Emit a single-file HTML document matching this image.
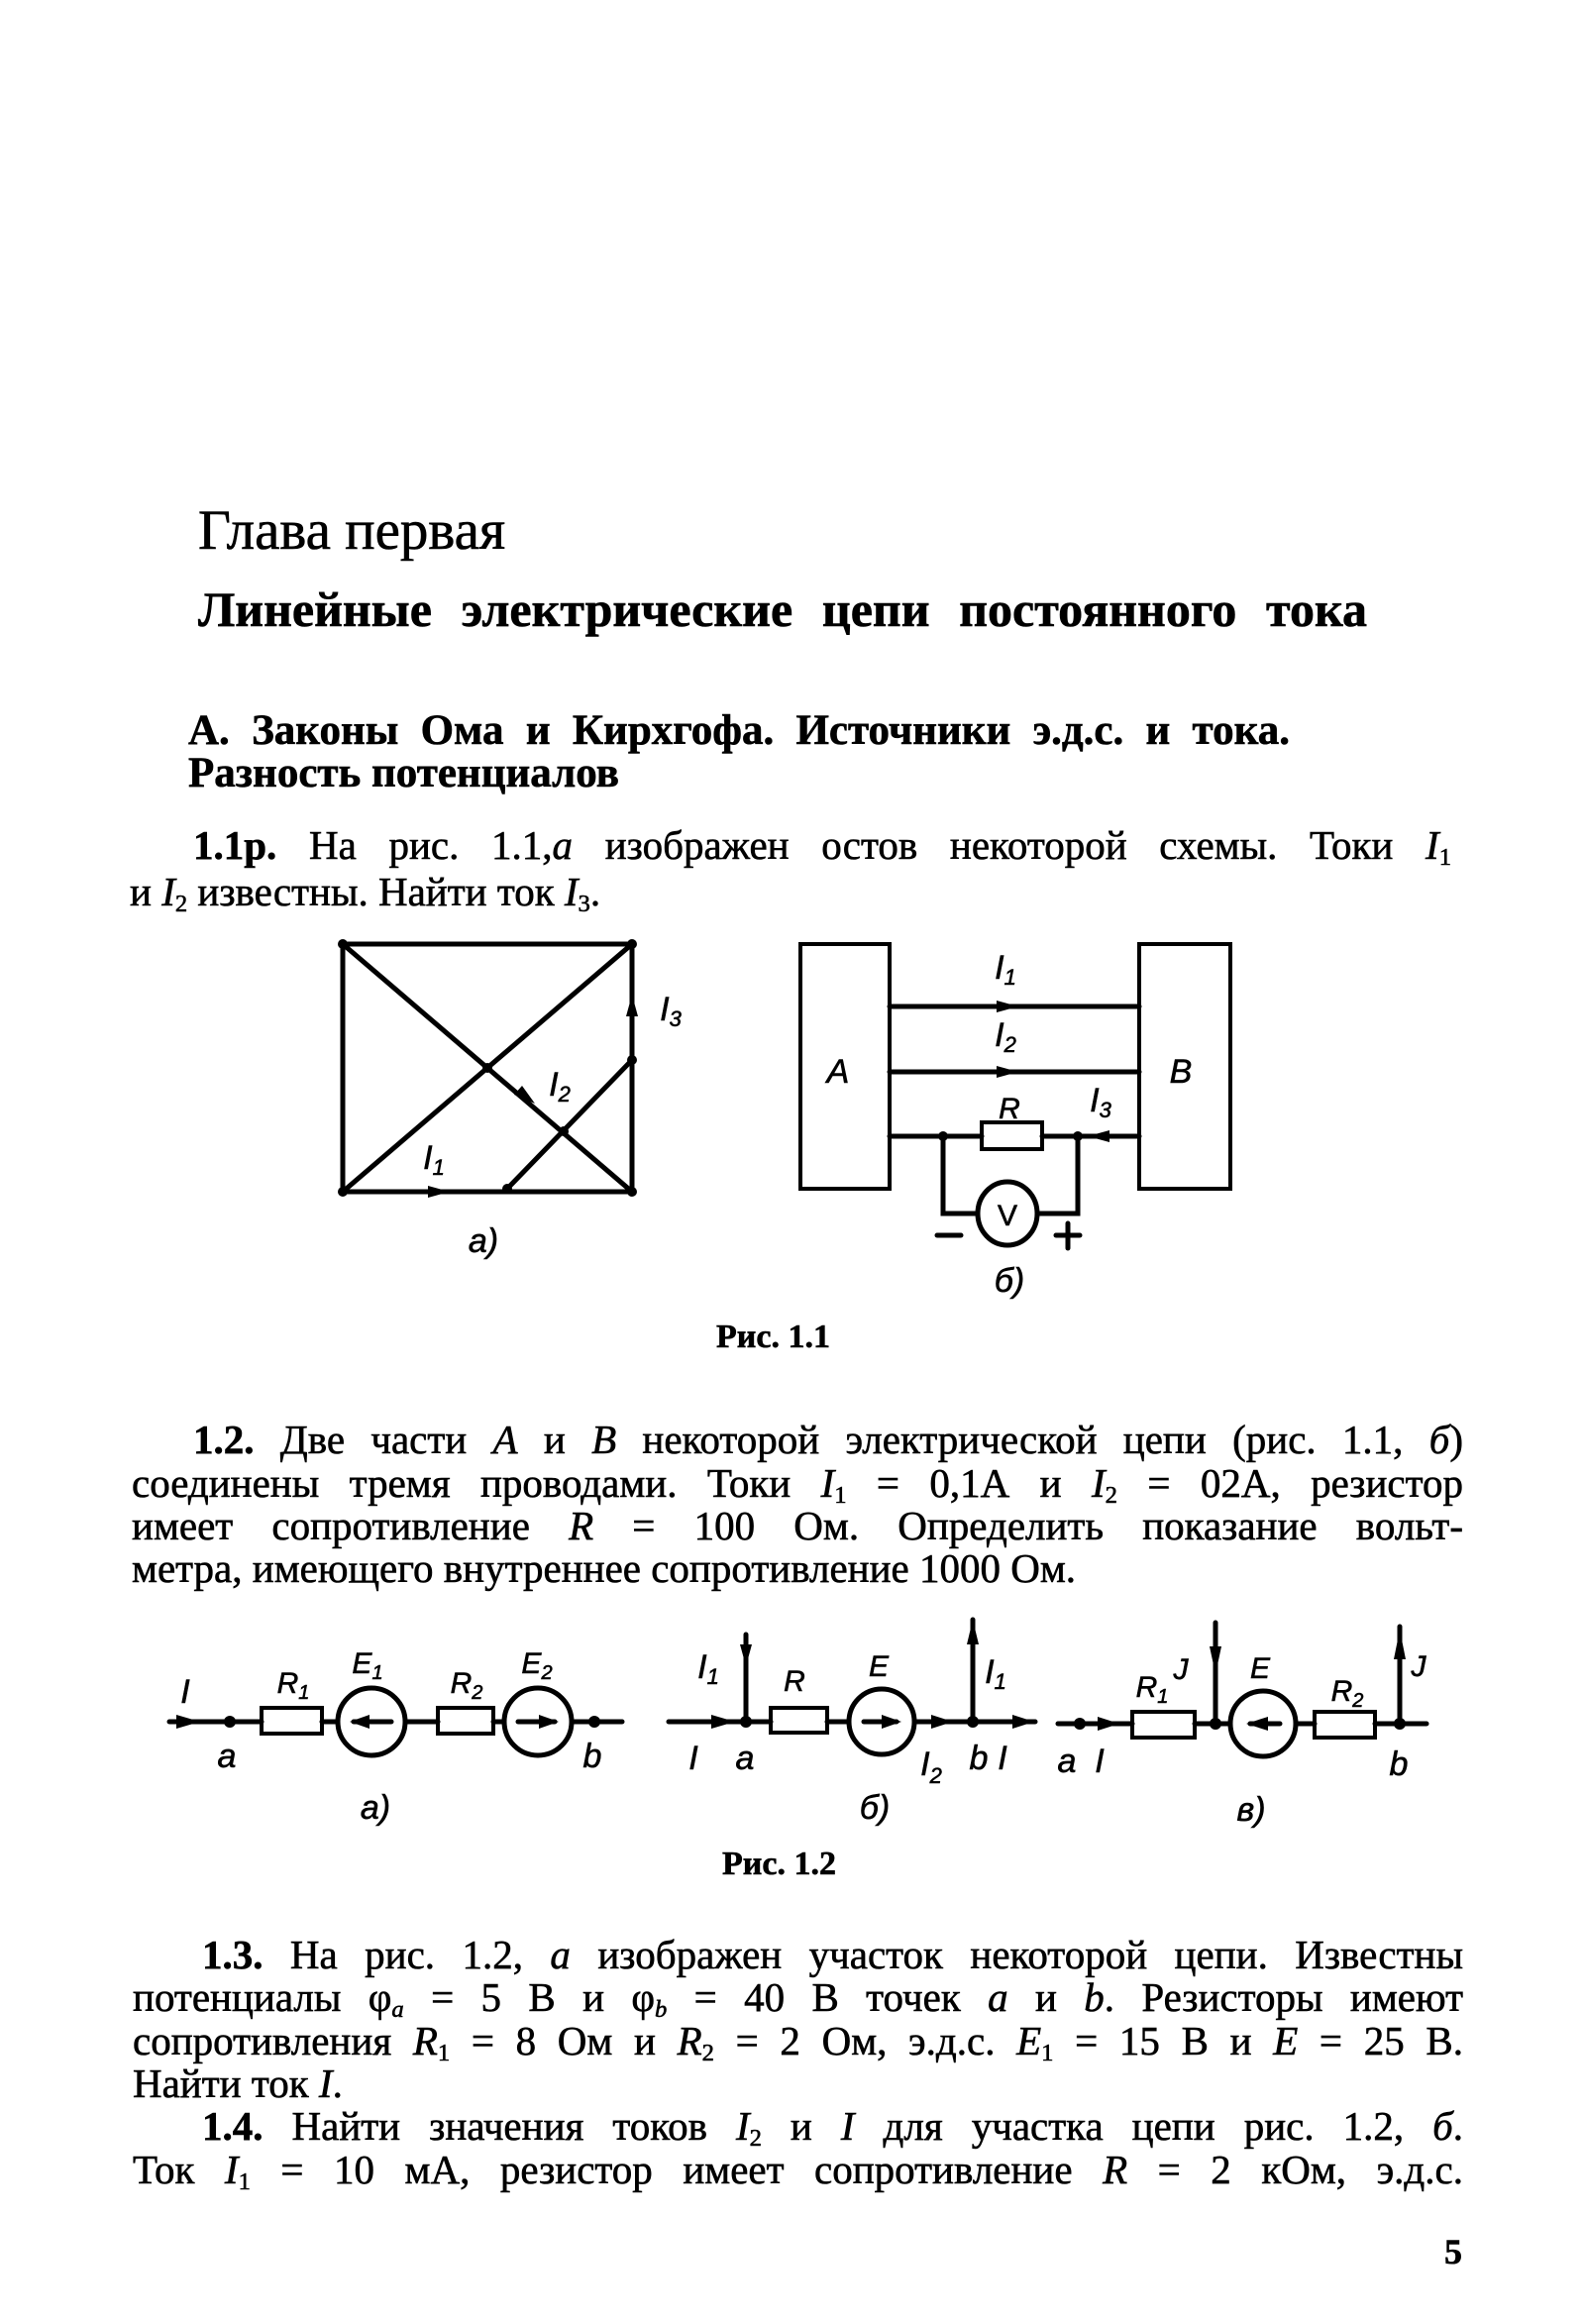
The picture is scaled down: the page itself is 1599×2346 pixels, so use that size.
<!DOCTYPE html>
<html><head><meta charset="utf-8">
<style>
body{margin:0;background:#fff;}
#p{position:relative;width:1599px;height:2346px;overflow:hidden;background:#fff;color:#000;font-family:"Liberation Serif","DejaVu Serif",serif;}
.t{position:absolute;white-space:nowrap;line-height:1;font-size:41px;-webkit-text-stroke:0.6px #000;}
.j{text-align:justify;text-align-last:justify;}
.b{font-weight:bold;}
i{font-style:italic;}
sub{font-size:60%;vertical-align:-0.25em;line-height:0;}
</style></head><body><div id="p">

<div class="t" style="left:200px;top:507px;font-size:57px;">Глава первая</div>
<div class="t b j" style="left:200px;top:590px;width:1180px;font-size:50px;">Линейные электрические цепи постоянного тока</div>
<div class="t b j" style="left:190px;top:716px;width:1112px;font-size:43px;">А. Законы Ома и Кирхгофа. Источники э.д.с. и тока.</div>
<div class="t b" style="left:190px;top:759px;font-size:43px;">Разность потенциалов</div>

<div class="t j" style="left:195px;top:833px;width:1270px;"><b>1.1р.</b> На рис. 1.1,<i>а</i> изображен остов некоторой схемы. Токи <i>I</i><sub>1</sub></div>
<div class="t" style="left:131px;top:880px;">и <i>I</i><sub>2</sub> известны. Найти ток <i>I</i><sub>3</sub>.</div>

<div class="t b" style="left:723px;top:1333px;font-size:34px;">Рис. 1.1</div>

<div class="t j" style="left:195px;top:1433px;width:1282px;"><b>1.2.</b> Две части <i>A</i> и <i>B</i> некоторой электрической цепи (рис. 1.1, <i>б</i>)</div>
<div class="t j" style="left:133px;top:1477px;width:1344px;">соединены тремя проводами. Токи <i>I</i><sub>1</sub> = 0,1А и <i>I</i><sub>2</sub> = 02А, резистор</div>
<div class="t j" style="left:133px;top:1520px;width:1344px;">имеет сопротивление <i>R</i> = 100 Ом. Определить показание вольт-</div>
<div class="t" style="left:133px;top:1563px;">метра, имеющего внутреннее сопротивление 1000 Ом.</div>

<div class="t b" style="left:729px;top:1865px;font-size:34px;">Рис. 1.2</div>

<div class="t j" style="left:204px;top:1953px;width:1273px;"><b>1.3.</b> На рис. 1.2, <i>а</i> изображен участок некоторой цепи. Известны</div>
<div class="t j" style="left:134px;top:1996px;width:1343px;">потенциалы φ<sub><i>a</i></sub> = 5 В и φ<sub><i>b</i></sub> = 40 В точек <i>a</i> и <i>b</i>. Резисторы имеют</div>
<div class="t j" style="left:134px;top:2040px;width:1343px;">сопротивления <i>R</i><sub>1</sub> = 8 Ом и <i>R</i><sub>2</sub> = 2 Ом, э.д.с. <i>E</i><sub>1</sub> = 15 В и <i>E</i> = 25 В.</div>
<div class="t" style="left:134px;top:2083px;">Найти ток <i>I</i>.</div>
<div class="t j" style="left:204px;top:2126px;width:1273px;"><b>1.4.</b> Найти значения токов <i>I</i><sub>2</sub> и <i>I</i> для участка цепи рис. 1.2, <i>б</i>.</div>
<div class="t j" style="left:134px;top:2170px;width:1343px;">Ток <i>I</i><sub>1</sub> = 10 мА, резистор имеет сопротивление <i>R</i> = 2 кОм, э.д.с.</div>

<div class="t b" style="left:1458px;top:2255px;font-size:36px;">5</div>

<svg style="position:absolute;left:0;top:0" width="1599" height="2346" viewBox="0 0 1599 2346">
<g stroke="#000" stroke-width="5" fill="none" stroke-linecap="round">
 <rect x="346" y="953" width="292" height="250"/>
 <line x1="346" y1="953" x2="638" y2="1203"/>
 <line x1="638" y1="953" x2="346" y2="1203"/>
 <line x1="512" y1="1200" x2="638" y2="1070"/>
 <rect x="808" y="953" width="90" height="247" stroke-width="4"/>
 <rect x="1150" y="953" width="92" height="247" stroke-width="4"/>
 <line x1="898" y1="1016" x2="1150" y2="1016"/>
 <line x1="898" y1="1082" x2="1150" y2="1082"/>
 <line x1="898" y1="1147" x2="991" y2="1147"/>
 <line x1="1052" y1="1147" x2="1150" y2="1147"/>
 <rect x="991" y="1133" width="61" height="27" stroke-width="4"/>
 <polyline points="952,1147 952,1225 987,1225"/>
 <polyline points="1088,1147 1088,1225 1048,1225"/>
 <ellipse cx="1017" cy="1225" rx="30" ry="32"/>
 <line x1="946" y1="1247" x2="970" y2="1247"/>
 <line x1="1066" y1="1247" x2="1090" y2="1247"/>
 <line x1="1078" y1="1235" x2="1078" y2="1260"/>
 <line x1="171" y1="1738" x2="264" y2="1738"/>
 <rect x="264" y="1724" width="61" height="26" stroke-width="4"/>
 <line x1="325" y1="1738" x2="341" y2="1738"/>
 <circle cx="375" cy="1738" r="34"/>
 <line x1="409" y1="1738" x2="442" y2="1738"/>
 <rect x="442" y="1724" width="56" height="26" stroke-width="4"/>
 <line x1="498" y1="1738" x2="509" y2="1738"/>
 <circle cx="543" cy="1738" r="34"/>
 <line x1="577" y1="1738" x2="628" y2="1738"/>
 <line x1="357" y1="1738" x2="395" y2="1738"/>
 <line x1="523" y1="1738" x2="560" y2="1738"/>
 <line x1="675" y1="1738" x2="778" y2="1738"/>
 <line x1="753" y1="1650" x2="753" y2="1738"/>
 <rect x="778" y="1724" width="57" height="25" stroke-width="4"/>
 <line x1="835" y1="1738" x2="857" y2="1738"/>
 <circle cx="890" cy="1738" r="33"/>
 <line x1="923" y1="1738" x2="1045" y2="1738"/>
 <line x1="982" y1="1635" x2="982" y2="1738"/>
 <line x1="872" y1="1738" x2="905" y2="1738"/>
 <line x1="1068" y1="1740" x2="1143" y2="1740"/>
 <rect x="1143" y="1728" width="63" height="26" stroke-width="4"/>
 <line x1="1206" y1="1740" x2="1242" y2="1740"/>
 <line x1="1227" y1="1638" x2="1227" y2="1740"/>
 <circle cx="1275" cy="1740" r="33"/>
 <line x1="1308" y1="1740" x2="1327" y2="1740"/>
 <rect x="1327" y="1728" width="61" height="26" stroke-width="4"/>
 <line x1="1388" y1="1740" x2="1440" y2="1740"/>
 <line x1="1413" y1="1642" x2="1413" y2="1740"/>
 <line x1="1262" y1="1740" x2="1292" y2="1740"/>
</g>
<g fill="#000">
 <circle cx="346" cy="953" r="5"/><circle cx="638" cy="953" r="5"/>
 <circle cx="346" cy="1203" r="5"/><circle cx="638" cy="1203" r="5"/>
 <circle cx="492" cy="1078" r="5"/><circle cx="569" cy="1142" r="5"/>
 <circle cx="638" cy="1070" r="5"/><circle cx="512" cy="1200" r="5"/>
 <polygon points="454,1203 432,1197 432,1209"/>
 <polygon points="638,1004 632,1026 644,1026"/>
 <polygon points="540,1114 519,1105 527,1096"/>
 <polygon points="1028,1016 1006,1010 1006,1022"/>
 <polygon points="1028,1082 1006,1076 1006,1088"/>
 <polygon points="1098,1147 1120,1141 1120,1153"/>
 <circle cx="952" cy="1147" r="5"/><circle cx="1088" cy="1147" r="5"/>
 <polygon points="202,1738 178,1731 178,1745"/>
 <circle cx="232" cy="1738" r="6"/><circle cx="600" cy="1738" r="6"/>
 <polygon points="353,1738 373,1731 373,1745"/>
 <polygon points="564,1738 544,1731 544,1745"/>
 <polygon points="742,1738 718,1731 718,1745"/>
 <polygon points="753,1682 747,1660 759,1660"/>
 <circle cx="753" cy="1738" r="6"/>
 <polygon points="910,1738 890,1731 890,1745"/>
 <polygon points="962,1738 940,1731 940,1745"/>
 <polygon points="1044,1738 1022,1731 1022,1745"/>
 <circle cx="982" cy="1738" r="6"/>
 <polygon points="982,1635 976,1660 988,1660"/>
 <circle cx="1090" cy="1740" r="6"/>
 <polygon points="1130,1740 1108,1733 1108,1747"/>
 <polygon points="1227,1690 1221,1662 1233,1662"/>
 <circle cx="1227" cy="1740" r="6"/>
 <polygon points="1258,1740 1280,1733 1280,1747"/>
 <circle cx="1413" cy="1740" r="6"/>
 <polygon points="1413,1645 1407,1675 1419,1675"/>
</g>
<g font-family="Liberation Sans, sans-serif" font-style="italic" font-size="34" fill="#000" stroke="#000" stroke-width="0.6" text-anchor="middle">
 <text x="677" y="1030">I<tspan font-size="22" dy="6">3</tspan></text>
 <text x="565" y="1106">I<tspan font-size="22" dy="6">2</tspan></text>
 <text x="438" y="1180">I<tspan font-size="22" dy="6">1</tspan></text>
 <text x="488" y="1264">a)</text>
 <text x="1015" y="988">I<tspan font-size="22" dy="6">1</tspan></text>
 <text x="1015" y="1056">I<tspan font-size="22" dy="6">2</tspan></text>
 <text x="846" y="1093">A</text>
 <text x="1192" y="1093">B</text>
 <text x="1019" y="1129" font-size="30">R</text>
 <text x="1111" y="1122">I<tspan font-size="22" dy="6">3</tspan></text>
 <text x="1017" y="1237" font-size="30" font-style="normal">V</text>
 <text x="1019" y="1304">б)</text>
 <text x="187" y="1719">I</text>
 <text x="296" y="1709" font-size="30">R<tspan font-size="20" dy="6">1</tspan></text>
 <text x="371" y="1689" font-size="30">E<tspan font-size="20" dy="6">1</tspan></text>
 <text x="471" y="1709" font-size="30">R<tspan font-size="20" dy="6">2</tspan></text>
 <text x="542" y="1689" font-size="30">E<tspan font-size="20" dy="6">2</tspan></text>
 <text x="229" y="1784">a</text>
 <text x="598" y="1784">b</text>
 <text x="379" y="1836">a)</text>
 <text x="715" y="1694">I<tspan font-size="22" dy="6">1</tspan></text>
 <text x="802" y="1707" font-size="30">R</text>
 <text x="887" y="1692" font-size="30">E</text>
 <text x="1005" y="1699">I<tspan font-size="22" dy="6">1</tspan></text>
 <text x="700" y="1786">I</text>
 <text x="752" y="1786">a</text>
 <text x="940" y="1792">I<tspan font-size="22" dy="8">2</tspan></text>
 <text x="988" y="1786">b</text>
 <text x="1012" y="1786">I</text>
 <text x="883" y="1836">б)</text>
 <text x="1077" y="1789">a</text>
 <text x="1110" y="1789">I</text>
 <text x="1163" y="1713" font-size="30">R<tspan font-size="20" dy="6">1</tspan></text>
 <text x="1192" y="1695" font-size="30">J</text>
 <text x="1272" y="1694" font-size="30">E</text>
 <text x="1360" y="1717" font-size="30">R<tspan font-size="20" dy="6">2</tspan></text>
 <text x="1432" y="1692" font-size="30">J</text>
 <text x="1412" y="1792">b</text>
 <text x="1263" y="1838">в)</text>
</g>
</svg>
</div></body></html>
